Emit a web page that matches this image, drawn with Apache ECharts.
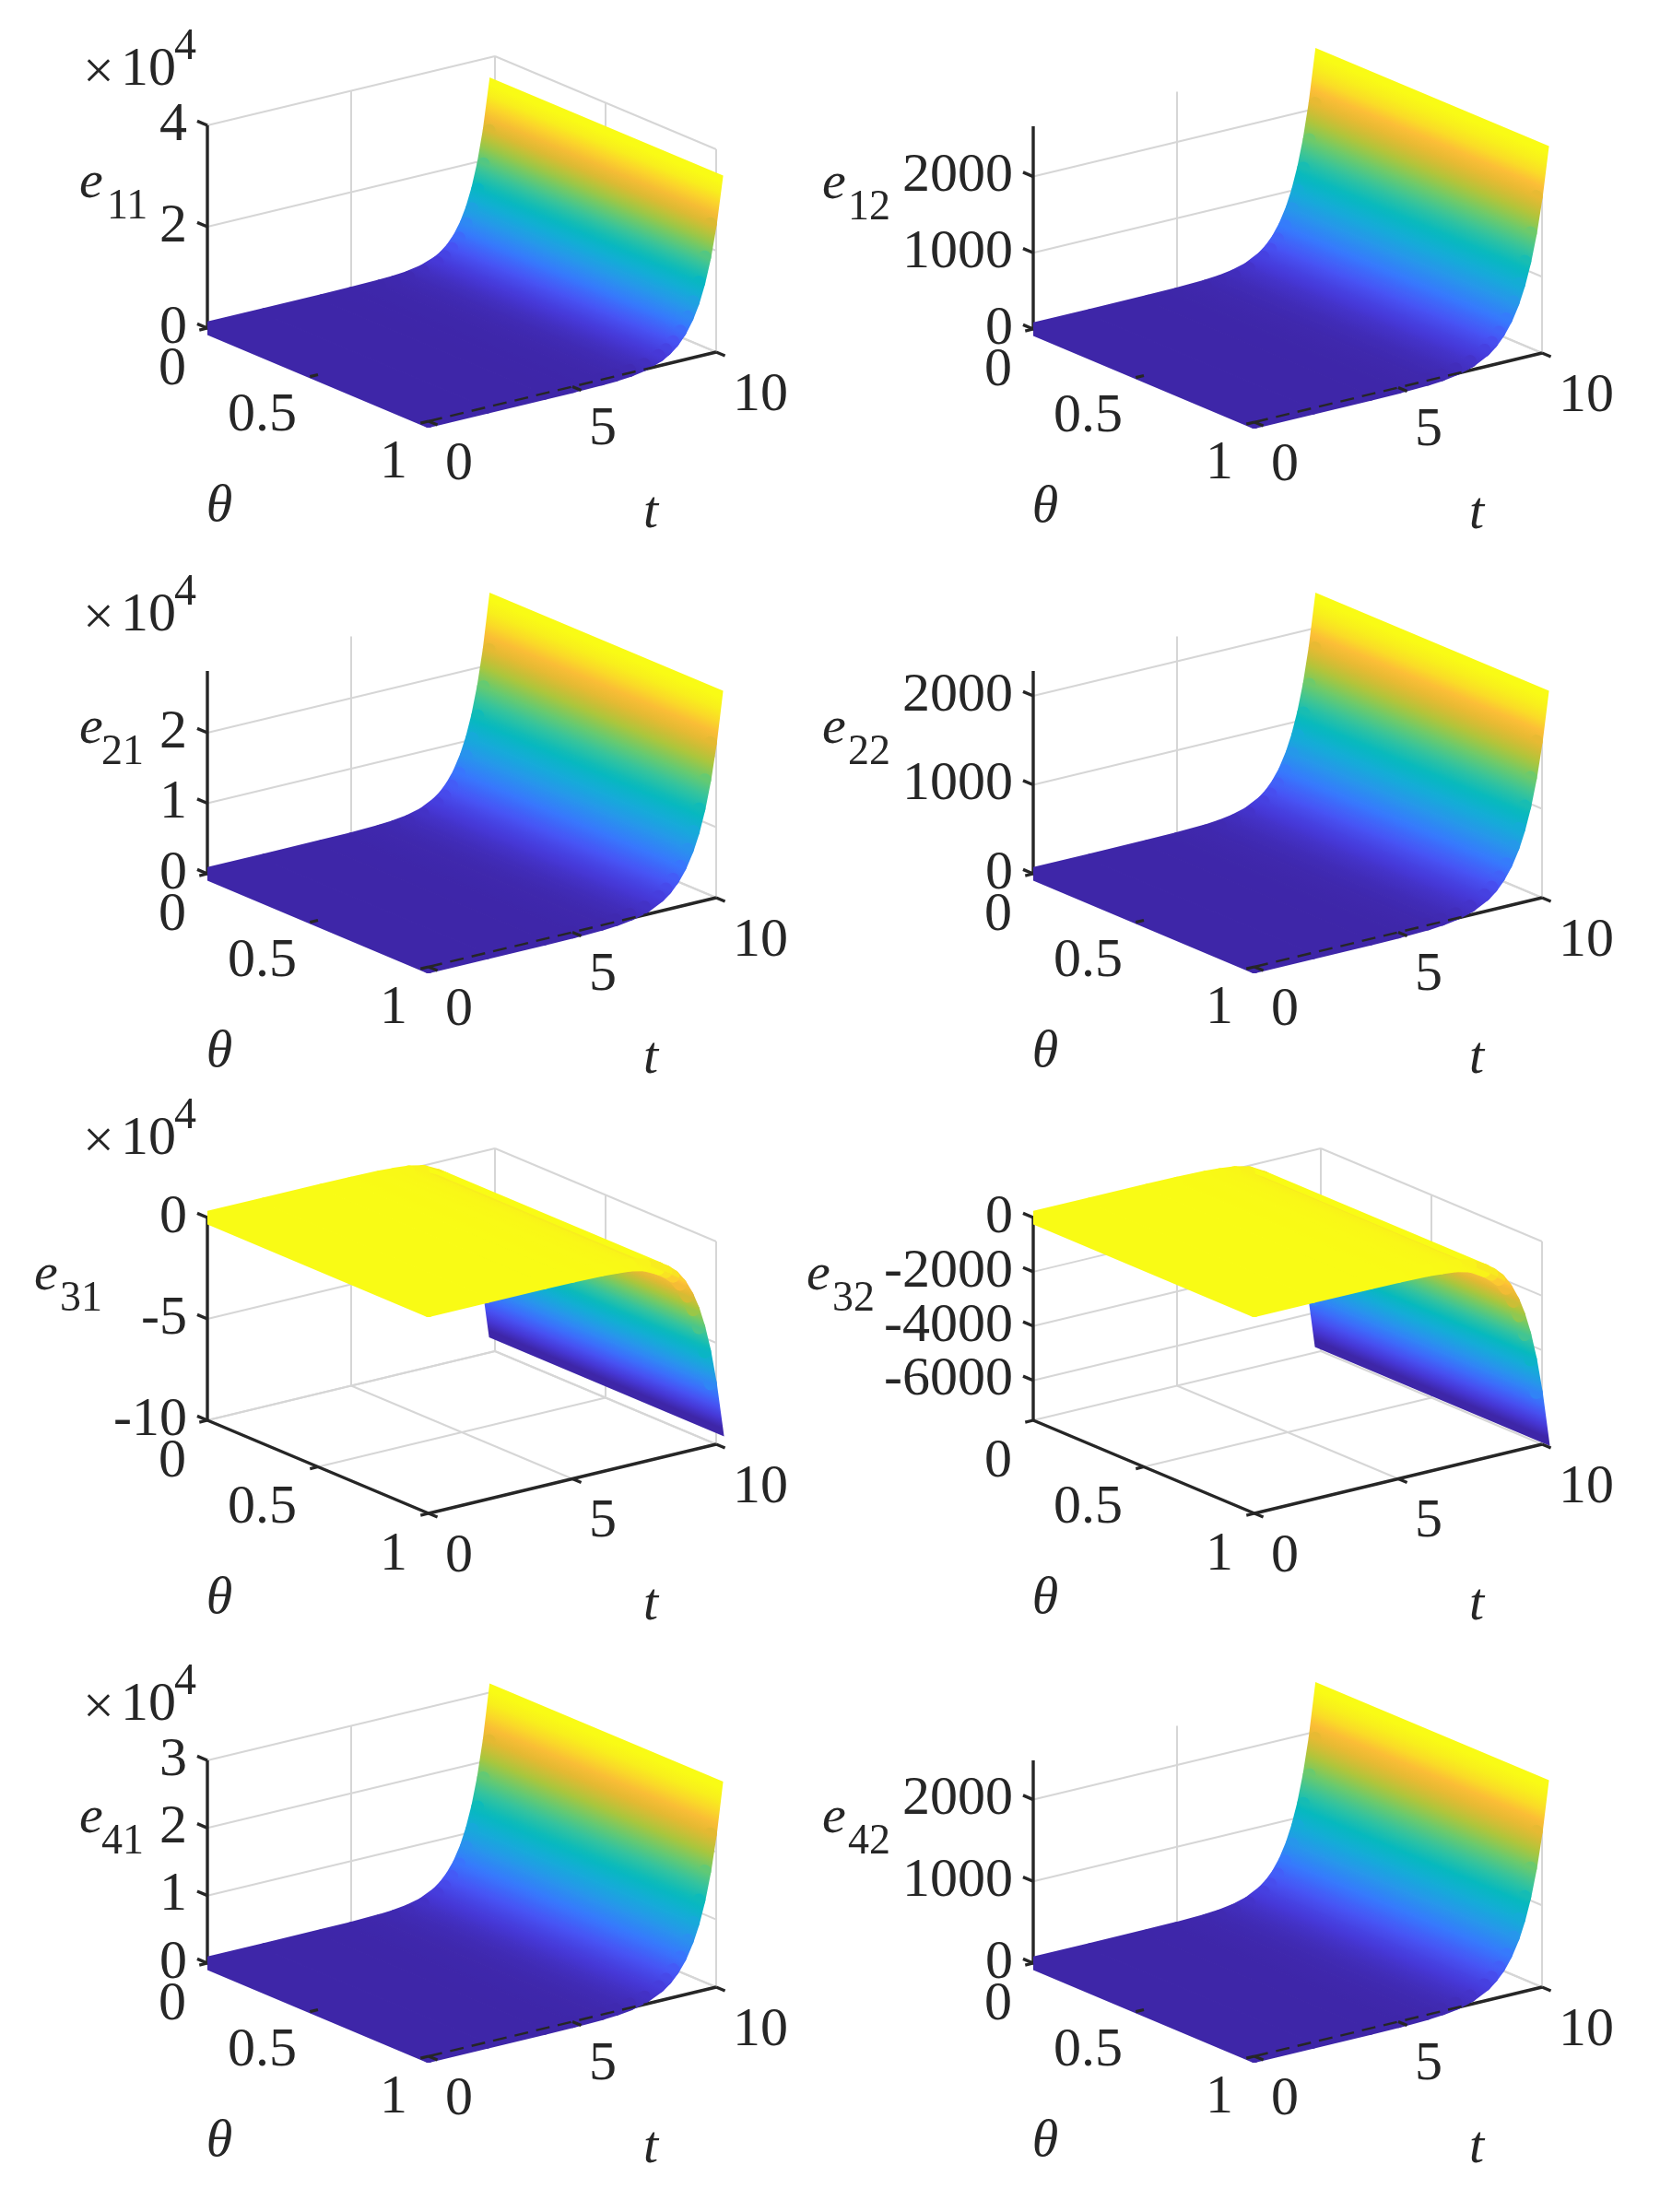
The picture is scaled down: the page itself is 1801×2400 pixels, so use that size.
<!DOCTYPE html>
<html>
<head>
<meta charset="utf-8">
<script src="https://cdn.jsdelivr.net/npm/echarts@6/dist/echarts.min.js"></script>
<style>html,body{margin:0;padding:0;background:#fff}#c{width:1801px;height:2400px}</style>
</head>
<body>
<div id="c"></div>
<script>
// ---------- data ----------
const tGrid = [0,2,4,5,6,6.5,7,7.5,8,8.25,8.5,8.75,9,9.2,9.4,9.6,9.8,10];
const thetaTicks = [0,0.5,1];
const thetaLabels = ['0','0.5','1'];
const tTicks = [0,5,10];
const tLabels = ['0','5','10'];

const e11 = [0,0,7,30,121,245,495,1000,2030,2890,4100,5830,8300,11000,14600,19300,25600,34000];
const e12 = [0,0,1.5,5,18,33,63,117,218,298,408,558,762,979,1257,1613,2072,2660];
const e21 = [0,0,12,43,159,304,582,1110,2130,2950,4090,5660,7840,10160,13180,17090,22170,28750];
const e22 = [0,0,1,4,15,29,54,100,187,255,350,478,653,839,1077,1383,1776,2280];
const e31 = [0,0,-27,-106,-410,-807,-1400,-2900,-6500,-8900,-12012,-16835,-23587,-30904,-40486,-53026,-69469,-91000];
const e32 = [0,0,-3,-11,-39,-76,-130,-260,-560,-760,-1017,-1408,-1948,-2528,-3278,-4251,-5513,-7150];
const e41 = [0,0,11,41,152,294,568,1099,2128,2960,4115,5722,7960,10364,13496,17576,22886,29800];
const e42 = [0,0,1,4,15,29,55,104,196,269,369,507,696,898,1157,1492,1923,2480];

const ticks11 = [0,20000,40000],  labels11 = ['0','2','4'];
const ticks12 = [0,1000,2000],    labels12 = ['0','1000','2000'];
const ticks21 = [0,10000,20000],  labels21 = ['0','1','2'];
const ticks22 = [0,1000,2000],    labels22 = ['0','1000','2000'];
const ticks31 = [-100000,-50000,0], labels31 = ['-10','-5','0'];
const ticks32 = [-6000,-4000,-2000,0], labels32 = ['-6000','-4000','-2000','0'];
const ticks41 = [0,10000,20000,30000], labels41 = ['0','1','2','3'];
const ticks42 = [0,1000,2000],    labels42 = ['0','1000','2000'];

// ---------- layout ----------
const FONT = "'Liberation Serif','Times New Roman',serif";
const INK = '#262626';
const GRIDC = '#d6d6d6';
const HALO = 14;                 // width of the coloured outline of the surface
const TV = [312, 75];            // screen run of the t axis, 0..10
const HV = [240, -101];          // screen run of the theta axis, 0..1
const ZH = 220;                  // screen height of the z axis
const G = {w:660, up:330, down:170};

const panels = [
 {L:[225,356],  sub:'11', vals:e11, ticks:ticks11, labels:labels11, zr:[0,40000],     exp:-280, e:[-139,-109]},
 {L:[1121,357], sub:'12', vals:e12, ticks:ticks12, labels:labels12, zr:[0,2660],      exp:null, e:[-229,-201]},
 {L:[225,948],  sub:'21', vals:e21, ticks:ticks21, labels:labels21, zr:[0,28750],     exp:-280, e:[-139,-115]},
 {L:[1121,948], sub:'22', vals:e22, ticks:ticks22, labels:labels22, zr:[0,2280],      exp:null, e:[-229,-201]},
 {L:[225,1541], sub:'31', vals:e31, ticks:ticks31, labels:labels31, zr:[-100000,0],   exp:-305, e:[-188,-160]},
 {L:[1121,1541],sub:'32', vals:e32, ticks:ticks32, labels:labels32, zr:[-7470,0],     exp:null, e:[-246,-218]},
 {L:[225,2130], sub:'41', vals:e41, ticks:ticks41, labels:labels41, zr:[0,30000],     exp:-280, e:[-139,-115]},
 {L:[1121,2130],sub:'42', vals:e42, ticks:ticks42, labels:labels42, zr:[0,2480],      exp:null, e:[-229,-201]}
];

// parula colour map
const parula = [
 [0,[62,38,168]],[0.06,[70,56,215]],[0.125,[71,84,245]],[0.2,[55,120,253]],[0.28,[39,150,235]],
 [0.36,[20,172,215]],[0.44,[6,185,190]],[0.52,[50,195,160]],[0.6,[105,202,110]],[0.68,[170,198,60]],
 [0.76,[225,185,50]],[0.84,[254,190,55]],[0.91,[248,232,32]],[1,[249,251,21]]
];
function colorAt(v){
  v = Math.max(0,Math.min(1,v));
  for(let i=1;i<parula.length;i++){
    if(v<=parula[i][0]){
      const a=parula[i-1],b=parula[i],f=(v-a[0])/(b[0]-a[0]);
      return 'rgb('+[0,1,2].map(k=>Math.round(a[1][k]+(b[1][k]-a[1][k])*f)).join(',')+')';
    }
  }
  return 'rgb(249,251,21)';
}

// oblique projection of (t,theta,z) on to the panel's plane axes
function project(p,t,th,z){
  const zn=(z-p.zr[0])/(p.zr[1]-p.zr[0]);
  return [t/10*TV[0]+th*HV[0], t/10*TV[1]+th*HV[1]+zn*ZH];
}

const grids=[],xAxes=[],yAxes=[],series=[];

panels.forEach((p,pi)=>{
  grids.push({left:p.L[0],top:p.L[1]-G.up,width:G.w,height:G.up+G.down,show:false,containLabel:false});
  xAxes.push({type:'value',gridIndex:pi,min:0,max:G.w,show:false});
  yAxes.push({type:'value',gridIndex:pi,min:-G.down,max:G.up,show:false});
  const base={type:'custom',coordinateSystem:'cartesian2d',xAxisIndex:pi,yAxisIndex:pi,silent:true,animation:false};
  const zMin=p.zr[0], zMax=p.zr[1];
  const falling=Math.min.apply(null,p.vals)<0;

  // ---- straight pieces: [t1,th1,z1,t2,th2,z2]
  const lineRender=(color,width,dash)=>(params,api)=>{
    const a=api.coord(project(p,api.value(0),api.value(1),api.value(2)));
    const b=api.coord(project(p,api.value(3),api.value(4),api.value(5)));
    return {type:'line',shape:{x1:a[0],y1:a[1],x2:b[0],y2:b[1]},style:{stroke:color,lineWidth:width,lineDash:dash||null,fill:null}};
  };
  const gridLines=[];
  p.ticks.forEach(z=>{
    gridLines.push([0,0,z,10,0,z]);
    gridLines.push([10,0,z,10,1,z]);
  });
  tTicks.forEach(t=>{
    gridLines.push([t,0,zMin,t,1,zMin]);
    if(t>0) gridLines.push([t,0,zMin,t,0,zMax]);
  });
  thetaTicks.forEach(h=>{
    gridLines.push([0,h,zMin,10,h,zMin]);
    gridLines.push([10,h,zMin,10,h,zMax]);
  });
  series.push(Object.assign({},base,{name:'grid'+pi,z:1,renderItem:lineRender(GRIDC,2),data:gridLines}));

  // axes below the surface
  const axisLines=[[0,0,zMin,0,0,zMax],[0,0,zMin,0,1,zMin],[0,1,zMin,10,1,zMin]];
  p.ticks.forEach(z=>axisLines.push([0,0,z,0,-0.046,z]));
  series.push(Object.assign({},base,{name:'axes'+pi,z:2,renderItem:lineRender(INK,3.4),data:axisLines}));

  // ---- surface, far strips first
  const strips=[];
  for(let i=tGrid.length-2;i>=0;i--) strips.push([tGrid[i],tGrid[i+1],p.vals[i],p.vals[i+1]]);
  const vMin=Math.min.apply(null,p.vals), vMax=Math.max.apply(null,p.vals);
  const norm=v=>(v-vMin)/(vMax-vMin);
  const tEnd=tGrid[tGrid.length-1];
  series.push(Object.assign({},base,{
    name:'e'+p.sub,z:3,clip:true,data:strips,
    renderItem:(params,api)=>{
      const t0=api.value(0),t1=api.value(1),z0=api.value(2),z1=api.value(3);
      const a0=api.coord(project(p,t0,0,z0)),a1=api.coord(project(p,t1,0,z1));
      const b0=api.coord(project(p,t0,1,z0)),b1=api.coord(project(p,t1,1,z1));
      const hx=b0[0]-a0[0],hy=b0[1]-a0[1];
      const dx=a1[0]-a0[0],dy=a1[1]-a0[1];
      const k=(dx*hx+dy*hy)/(hx*hx+hy*hy);
      const nx=dx-k*hx,ny=dy-k*hy;
      const stops=[];
      for(let s=0;s<=4;s++){
        stops.push({offset:s/4,color:colorAt(norm(z0+(z1-z0)*s/4))});
      }
      const grad=new echarts.graphic.LinearGradient(a0[0],a0[1],a0[0]+nx,a0[1]+ny,stops,true);
      const last=t1===tEnd;
      const stroke=(pts,cap,join,col)=>({type:'polyline',shape:{points:pts},
        style:{stroke:col||grad,lineWidth:HALO,lineCap:cap,lineJoin:join,miterLimit:6,fill:null}});
      const children=[];
      if(last){
        children.push(stroke([a0,a1,b1,b0],'round','miter'));
      }else{
        children.push(stroke([a0,a1],'round','round'),stroke([b0,b1],'round','round'));
      }
      if(t0===tGrid[0]) children.push(stroke([a0,b0],'round','round'));
      if(falling && (t0===7.5 || t0===8)) children.push(stroke([a0,b0],'round','round',colorAt(1)));
      children.push({type:'polygon',shape:{points:[a0,a1,b1,b0]},style:{fill:grad,stroke:grad,lineWidth:1.2}});
      return {type:'group',children:children};
    }
  }));

  // marks that show through on top of the surface
  const overTicks=[];
  thetaTicks.forEach(h=>overTicks.push([0,h,zMin,-0.28,h,zMin]));
  tTicks.forEach(t=>overTicks.push([t,1,zMin,t,1.04,zMin]));
  series.push(Object.assign({},base,{name:'ticks'+pi,z:4,renderItem:lineRender(INK,3.2),data:overTicks}));
  if(!falling){
    series.push(Object.assign({},base,{name:'taxis'+pi,z:4,renderItem:lineRender(INK,2.4,[15,9]),data:[[0,1,zMin,8,1,zMin]]}));
  }

  // ---- texts: anchor (t,theta,z) plus a small screen offset
  const texts=[];
  p.ticks.forEach((z,i)=>texts.push({a:[0,0,z],d:[-22,0],s:p.labels[i],f:'60px',al:'right'}));
  thetaTicks.forEach((h,i)=>texts.push({a:[0,h,zMin],d:[-23,45],s:thetaLabels[i],f:'60px',al:'right'}));
  tTicks.forEach((t,i)=>texts.push({a:[t,1,zMin],d:[18,47],s:tLabels[i],f:'60px',al:'left'}));
  texts.push({a:[0,0,zMin],d:[13,194],s:'θ',f:'italic 58px',al:'center'});
  texts.push({a:[0,0,zMin],d:[481,201],s:'t',f:'italic 58px',al:'center'});
  texts.push({a:[0,0,zMin],d:[p.e[0],-157],s:'e',f:'italic 58px',al:'left'});
  texts.push({a:[0,0,zMin],d:[p.e[1],-131],s:p.sub,f:'46px',al:'left'});
  if(p.exp!==null){
    texts.push({a:[0,0,zMin],d:[-118,p.exp+4],s:'×',f:'60px',al:'center'});
    texts.push({a:[0,0,zMin],d:[-94,p.exp],s:'10',f:'60px',al:'left'});
    texts.push({a:[0,0,zMin],d:[-36,p.exp-25],s:'4',f:'48px',al:'left'});
  }
  series.push(Object.assign({},base,{
    name:'text'+pi,z:5,data:texts.map((x,i)=>[i,0]),
    renderItem:(params,api)=>{
      const it=texts[params.dataIndex];
      const c=api.coord(project(p,it.a[0],it.a[1],it.a[2]));
      return {type:'text',x:c[0]+it.d[0],y:c[1]+it.d[1],
        style:{text:it.s,font:it.f+' '+FONT,fill:INK,align:it.al,verticalAlign:'middle'}};
    }
  }));
});

const chart=echarts.init(document.getElementById('c'),null,{renderer:'canvas',width:1801,height:2400});
chart.setOption({backgroundColor:'#fff',animation:false,grid:grids,xAxis:xAxes,yAxis:yAxes,series:series});
</script>
</body>
</html>
